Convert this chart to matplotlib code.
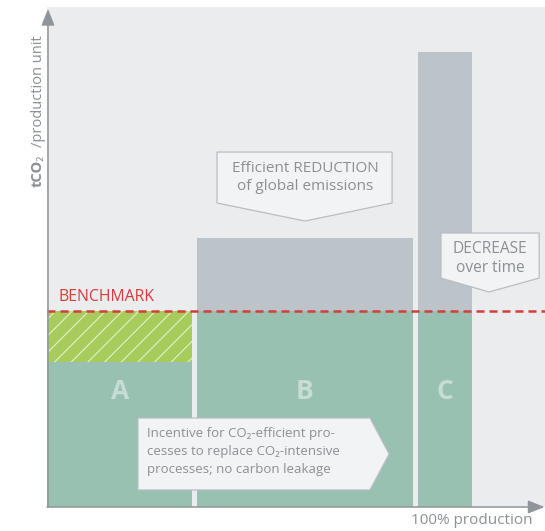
import matplotlib.pyplot as plt
from matplotlib.patches import Polygon

plt.rcParams['font.family'] = ['Open Sans', 'Noto Sans', 'DejaVu Sans']
plt.rcParams['hatch.linewidth'] = 0.8

# data: share of production (%) and emissions per unit (benchmark = 100)
installations = ['A', 'B', 'C']
prod_share = [34.8, 51.8, 13.4]
emissions = [74, 137, 232]
benchmark = 100

GREEN = '#98c1b2'
GREY_BAR = '#bcc3c9'
LIME = '#a8cc5c'
RED = '#d63c3a'
TXT = '#8b9095'
AXC = '#8f959a'
BOX_FACE = '#f2f3f5'
BOX_EDGE = '#b9bec3'

fig = plt.figure(figsize=(5.45, 5.31), dpi=100)
ax = fig.add_axes([47 / 545, 24 / 531, 498 / 545, 500 / 531])
ax.set_facecolor('#ebecee')
ax.set_xlim(0, 498 / 4.25)
ax.set_ylim(0, 500 / 1.96)
for s in ax.spines.values():
    s.set_visible(False)
ax.set_xticks([])
ax.set_yticks([])

gap = 1.2
start = 0
lefts, widths = [], []
for i, share in enumerate(prod_share):
    l = start + (gap / 2 if i > 0 else 0)
    r = start + share - (gap / 2 if i < len(prod_share) - 1 else 0)
    lefts.append(l)
    widths.append(r - l)
    start += share

for l, w, e, name in zip(lefts, widths, emissions, installations):
    ax.bar(l, min(e, benchmark), width=w, align='edge', color=GREEN, lw=0, zorder=2)
    if e > benchmark:
        ax.bar(l, e - benchmark, bottom=benchmark, width=w, align='edge',
               color=GREY_BAR, lw=0, zorder=2)
    else:
        ax.bar(l, benchmark - e, bottom=e, width=w, align='edge', color=LIME,
               edgecolor='#e4f0cf', hatch='//', lw=0, zorder=2)
    ax.text(l + w / 2, 58.7, name, ha='center', va='center', fontsize=19,
            fontweight='bold', color='white', alpha=0.45, zorder=3)

# benchmark line
ax.axhline(benchmark, color=RED, lw=1.8, linestyle=(0, (3.2, 2.0)), zorder=4)
ax.text(2.6, 105.3, 'BENCHMARK', color=RED, fontsize=11.4, ha='left',
        va='baseline', zorder=4)

# axes arrows
arrow = dict(arrowstyle='-|>,head_length=1.0,head_width=0.4', color=AXC,
             lw=1.1, mutation_scale=10, shrinkA=0, shrinkB=0)
ax.annotate('', xy=(0.002, 0.996), xytext=(0.002, 0.0),
            xycoords='axes fraction', arrowprops=arrow, zorder=5,
            annotation_clip=False)
ax.annotate('', xy=(0.999, 0.0), xytext=(0.0, 0.0),
            xycoords='axes fraction', arrowprops=arrow, zorder=5,
            annotation_clip=False)

# axis labels
ax.text(-0.01, 0.64, 'tCO\u2082', rotation=90, rotation_mode='anchor',
        ha='left', va='baseline', transform=ax.transAxes, fontsize=10.5,
        fontweight='bold', color=TXT)
ax.text(-0.01, 0.72, '/production unit', rotation=90, rotation_mode='anchor',
        ha='left', va='baseline', transform=ax.transAxes, fontsize=10.5,
        color=TXT)
ax.text(100, -0.026, '100% production', ha='center', va='center',
        transform=ax.get_xaxis_transform(), fontsize=11, color=TXT)

# callouts
b_mid = lefts[1] + widths[1] / 2
callouts = [
    ([(40.0, 181.1), (81.2, 181.1), (81.2, 155.1), (b_mid, 145.9), (40.0, 155.1)],
     (b_mid, 168.1), 'Efficient REDUCTION\nof global emissions', 'center', 11, 1.31),
    ([(92.7, 139.8), (115.8, 139.8), (115.8, 116.8), (104.0, 109.7), (92.7, 116.8)],
     (104.2, 126.8), 'DECREASE\nover time', 'center', 11.2, 1.29),
    ([(21.4, 45.4), (76.0, 45.4), (80.5, 27.0), (76.0, 8.7), (21.4, 8.7)],
     (23.5, 28.3), 'Incentive for CO\u2082-efficient pro-\ncesses to replace CO\u2082-intensive\nprocesses; no carbon leakage',
     'left', 9.5, 1.52),
]
for pts, (tx, ty), txt, ha, fs, ls in callouts:
    ax.add_patch(Polygon(pts, closed=True, facecolor=BOX_FACE,
                         edgecolor=BOX_EDGE, lw=0.9, zorder=6))
    ax.text(tx, ty, txt, ha=ha, va='center', multialignment=ha, fontsize=fs,
            color=TXT, linespacing=ls, zorder=7)

fig.savefig('out.png', dpi=100, facecolor='white')
